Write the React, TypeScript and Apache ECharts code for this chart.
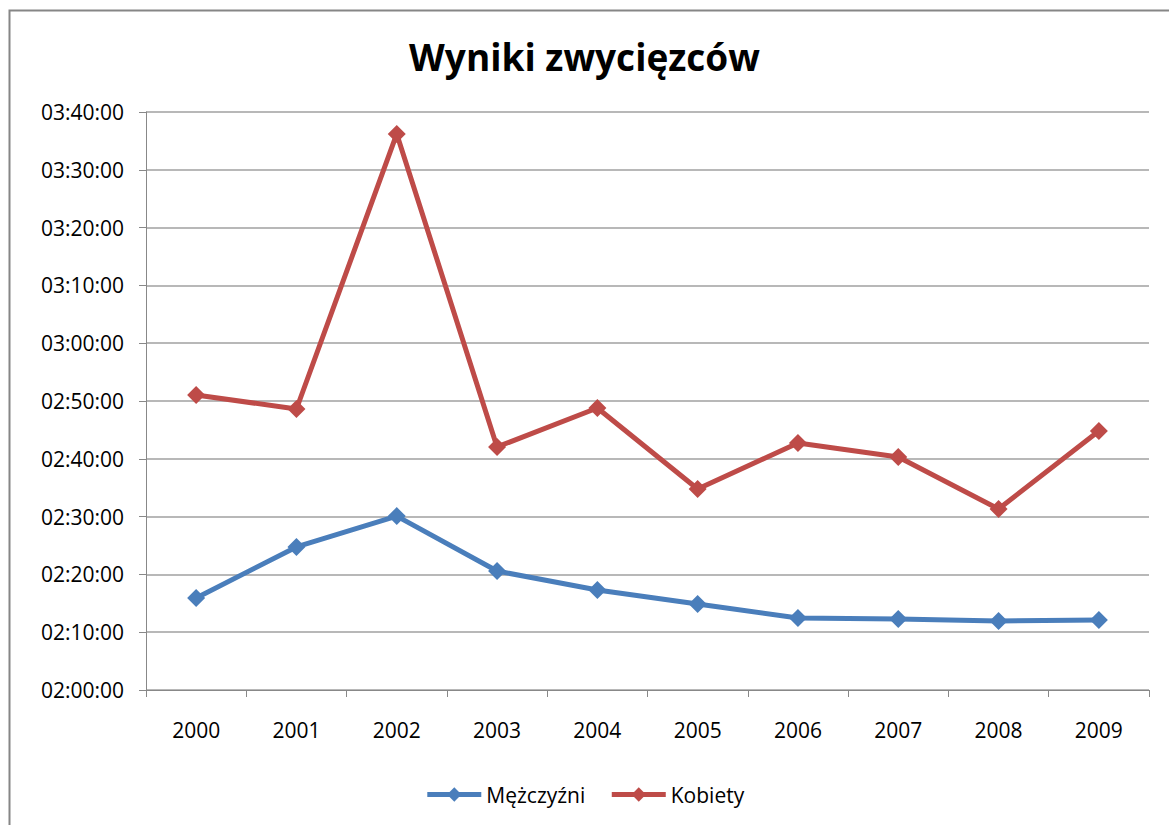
import React, { useEffect, useRef } from "react";
import * as echarts from "echarts";

const years = ["2000", "2001", "2002", "2003", "2004", "2005", "2006", "2007", "2008", "2009"];
const menTimes = ["2:15:55", "2:24:45", "2:30:05", "2:20:35", "2:17:18", "2:14:53", "2:12:28", "2:12:17", "2:11:56", "2:12:07"];
const womenTimes = ["2:51:02", "2:48:37", "3:36:12", "2:42:03", "2:48:47", "2:34:46", "2:42:44", "2:40:19", "2:31:19", "2:44:49"];
const seriesNames = ["Mężczyźni", "Kobiety"];
const titleText = "Wyniki zwycięzców";

const toSec = (t: string) => {
  const [h, m, s] = t.split(":").map(Number);
  return h * 3600 + m * 60 + s;
};
const pad = (n: number) => (n < 10 ? "0" + n : "" + n);
const fmt = (v: number) => {
  const h = Math.floor(v / 3600);
  const m = Math.floor((v % 3600) / 60);
  const s = Math.round(v % 60);
  return `${pad(h)}:${pad(m)}:${pad(s)}`;
};

const FONT = "'Open Sans', 'Noto Sans', sans-serif";
const BLUE = "#4a7ebb";
const RED = "#be4b48";

export default function App() {
  const ref = useRef<HTMLDivElement>(null);
  useEffect(() => {
    if (!ref.current) return;
    const chart = echarts.init(ref.current, undefined, { renderer: "svg" });
    chart.setOption({
      animation: false,
      backgroundColor: "#ffffff",
      title: {
        text: titleText,
        left: "center",
        top: 33,
        textStyle: { fontFamily: FONT, fontSize: 37, fontWeight: "bold", color: "#000" },
      },
      graphic: [
        {
          type: "rect",
          left: 7,
          top: 8,
          shape: { width: 1200, height: 900 },
          style: { fill: "none", stroke: "#868686", lineWidth: 2 },
          silent: true,
        },
      ],
      legend: {
        top: 779,
        left: "center",
        itemWidth: 54,
        itemHeight: 18,
        itemGap: 24,
        textStyle: { fontFamily: FONT, fontSize: 21, color: "#000" },
        data: [
          { name: seriesNames[0], lineStyle: { width: 5, color: BLUE } },
          { name: seriesNames[1], lineStyle: { width: 5, color: RED } },
        ],
      },
      grid: { left: 146, right: 20, top: 112, bottom: 135, containLabel: false },
      xAxis: {
        type: "category",
        data: years,
        boundaryGap: true,
        axisLine: { show: true, lineStyle: { color: "#888", width: 1 } },
        axisTick: { show: true, length: 7, lineStyle: { color: "#888" } },
        axisLabel: { margin: 29, fontFamily: FONT, fontSize: 21, color: "#000" },
      },
      yAxis: {
        type: "value",
        min: 7200,
        max: 13200,
        interval: 600,
        axisLine: { show: true, lineStyle: { color: "#888", width: 1 } },
        axisTick: { show: true, length: 7, lineStyle: { color: "#888" } },
        axisLabel: { margin: 22, fontFamily: FONT, fontSize: 21, color: "#000", formatter: (v: number) => fmt(v) },
        splitLine: { show: true, lineStyle: { color: "#a0a0a0", width: 1.5 } },
      },
      series: [
        {
          name: seriesNames[0],
          type: "line",
          data: menTimes.map(toSec),
          symbol: "diamond",
          symbolSize: 18,
          lineStyle: { width: 5, color: BLUE },
          itemStyle: { color: BLUE },
        },
        {
          name: seriesNames[1],
          type: "line",
          data: womenTimes.map(toSec),
          symbol: "diamond",
          symbolSize: 18,
          lineStyle: { width: 5, color: RED },
          itemStyle: { color: RED },
        },
      ],
    });
    return () => chart.dispose();
  }, []);
  return <div ref={ref} style={{ position: "absolute", left: 0, top: 0, width: 1169, height: 825 }} />;
}
